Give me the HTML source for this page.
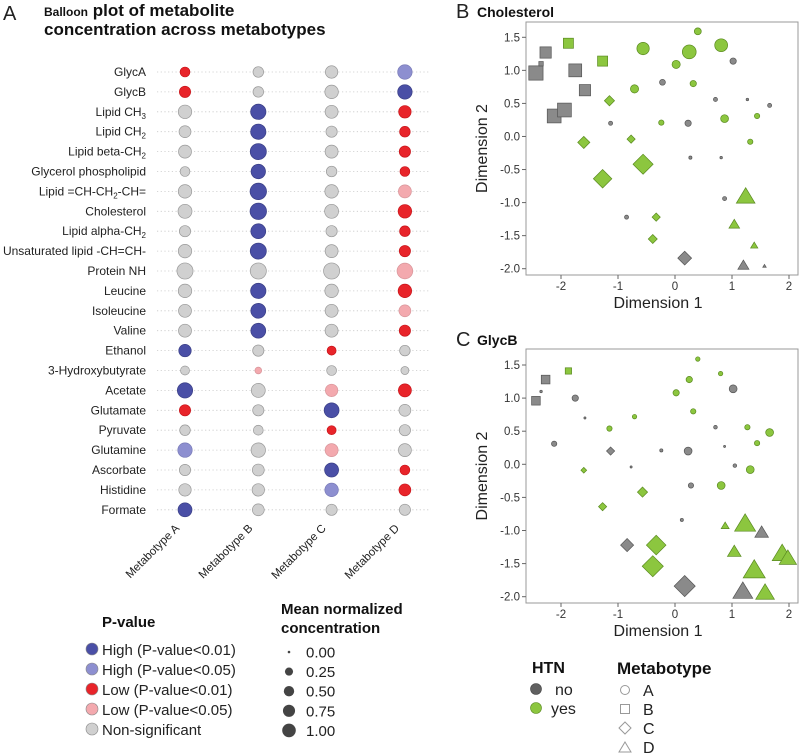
<!DOCTYPE html>
<html><head><meta charset="utf-8">
<style>
html,body{margin:0;padding:0;background:#fff;}
svg{display:block;font-family:"Liberation Sans","DejaVu Sans",sans-serif;}
</style></head>
<body>
<svg id="fig" width="800" height="753" viewBox="0 0 800 753" xmlns="http://www.w3.org/2000/svg">
<g id="panelA">
<text x="3" y="20" font-size="20" fill="#222">A</text>
<text x="44" y="16" font-size="17" font-weight="bold" fill="#111"><tspan font-size="12">Balloon</tspan> plot of metabolite</text>
<text x="44" y="35" font-size="17" font-weight="bold" fill="#111">concentration across metabotypes</text>
<g id="rows"></g>
<g id="collabels"></g>
<g>
<text x="102" y="627" font-size="15" font-weight="bold" fill="#111">P-value</text>
<circle cx="92" cy="649" r="6" fill="#4a4fa6" stroke="#888" stroke-width="0.6"/>
<text x="102" y="655" font-size="15" fill="#222">High (P-value&lt;0.01)</text>
<circle cx="92" cy="669" r="6" fill="#8d8fd0" stroke="#888" stroke-width="0.6"/>
<text x="102" y="675" font-size="15" fill="#222">High (P-value&lt;0.05)</text>
<circle cx="92" cy="689" r="6" fill="#e8242a" stroke="#888" stroke-width="0.6"/>
<text x="102" y="695" font-size="15" fill="#222">Low (P-value&lt;0.01)</text>
<circle cx="92" cy="709" r="6" fill="#f3a9ae" stroke="#888" stroke-width="0.6"/>
<text x="102" y="715" font-size="15" fill="#222">Low (P-value&lt;0.05)</text>
<circle cx="92" cy="729" r="6" fill="#d0d0d0" stroke="#888" stroke-width="0.6"/>
<text x="102" y="735" font-size="15" fill="#222">Non-significant</text>
</g>
<g>
<text x="281" y="614" font-size="15" font-weight="bold" fill="#111">Mean normalized</text>
<text x="281" y="633" font-size="15" font-weight="bold" fill="#111">concentration</text>
<g id="sizelegend"></g>
</g>
</g>
<g id="panelB"></g>
<g id="panelC"></g>
<g>
<text x="532" y="673" font-size="16" font-weight="bold" fill="#111">HTN</text>
<circle cx="536" cy="689" r="5.5" fill="#606060" stroke="#444" stroke-width="0.6"/>
<text x="555" y="695" font-size="16" fill="#222">no</text>
<circle cx="536" cy="708" r="5.5" fill="#8cc63f" stroke="#5a8a20" stroke-width="0.6"/>
<text x="551" y="714" font-size="16" fill="#222">yes</text>
<text x="617" y="674" font-size="17" font-weight="bold" fill="#111">Metabotype</text>
<circle cx="625" cy="690" r="4.5" fill="none" stroke="#999"/>
<text x="643" y="696" font-size="16" fill="#222">A</text>
<rect x="620.5" y="704.5" width="9" height="9" fill="none" stroke="#999"/>
<text x="643" y="715" font-size="16" fill="#222">B</text>
<path d="M625 722 L631 728 L625 734 L619 728 Z" fill="none" stroke="#999"/>
<text x="643" y="734" font-size="16" fill="#222">C</text>
<path d="M625 742 L631 752 L619 752 Z" fill="none" stroke="#999"/>
<text x="643" y="753" font-size="16" fill="#222">D</text>
</g>
</svg>
<script>
// ---------- Panel A data ----------
const metabolites = ["GlycA","GlycB","Lipid CH3","Lipid CH2","Lipid beta-CH2","Glycerol phospholipid","Lipid =CH-CH2-CH=","Cholesterol","Lipid alpha-CH2","Unsaturated lipid -CH=CH-","Protein NH","Leucine","Isoleucine","Valine","Ethanol","3-Hydroxybutyrate","Acetate","Glutamate","Pyruvate","Glutamine","Ascorbate","Histidine","Formate"];
const metabotypes = ["Metabotype A","Metabotype B","Metabotype C","Metabotype D"];
const sigA = ["L1","L1","N","N","N","N","N","N","N","N","N","N","N","N","H1","N","H1","L1","N","H5","N","N","H1"];
const sigB = ["N","N","H1","H1","H1","H1","H1","H1","H1","H1","N","H1","H1","H1","N","L5","N","N","N","N","N","N","N"];
const sigC = ["N","N","N","N","N","N","N","N","N","N","N","N","N","N","L1","N","L5","H1","L1","L5","H1","H5","N"];
const sigD = ["H5","H1","L1","L1","L1","L1","L5","L1","L1","L1","L5","L1","L5","L1","N","N","L1","N","N","N","L1","L1","N"];
const concA = [0.2,0.3,0.5,0.35,0.45,0.2,0.5,0.55,0.3,0.5,0.8,0.5,0.45,0.45,0.4,0.15,0.7,0.3,0.25,0.6,0.3,0.4,0.55];
const concB = [0.25,0.25,0.7,0.7,0.8,0.6,0.85,0.85,0.65,0.8,0.8,0.7,0.65,0.65,0.3,0.05,0.55,0.3,0.2,0.6,0.35,0.4,0.35];
const concC = [0.4,0.5,0.45,0.3,0.45,0.25,0.5,0.55,0.3,0.45,0.8,0.5,0.45,0.45,0.15,0.2,0.4,0.65,0.15,0.45,0.55,0.5,0.3];
const concD = [0.6,0.6,0.4,0.25,0.3,0.2,0.45,0.5,0.25,0.3,0.75,0.5,0.35,0.3,0.25,0.1,0.45,0.35,0.3,0.45,0.2,0.35,0.3];
const sizeLegendValues = [0,0.25,0.5,0.75,1];
const sizeLegendLabels = ["0.00","0.25","0.50","0.75","1.00"];

// ---------- Panel B data (Cholesterol) ----------
const bX = [-2.44,-2.27,-1.75,-1.58,-2.12,-1.94,-2.35,-1.87,-1.27,-0.56,0.25,0.81,0.40,0.02,-0.71,0.32,0.87,1.44,1.32,-0.24,1.02,-0.22,0.23,-1.13,0.71,1.66,0.27,0.87,-0.85,1.27,0.81,-1.15,-1.60,-0.77,-0.56,-1.27,-0.33,-0.39,0.17,1.24,1.04,1.39,1.20,1.57];
const bY = [0.96,1.27,1.00,0.70,0.31,0.40,1.10,1.41,1.14,1.33,1.28,1.38,1.59,1.09,0.72,0.80,0.27,0.31,-0.08,0.21,1.14,0.82,0.20,0.20,0.56,0.47,-0.32,-0.94,-1.22,0.56,-0.32,0.54,-0.09,-0.04,-0.42,-0.64,-1.22,-1.55,-1.84,-0.91,-1.33,-1.65,-1.95,-1.96];
const bShape = ["B","B","B","B","B","B","B","B","B","A","A","A","A","A","A","A","A","A","A","A","A","A","A","A","A","A","A","A","A","A","A","C","C","C","C","C","C","C","C","D","D","D","D","D"];
const bHTN = ["no","no","no","no","no","no","no","yes","yes","yes","yes","yes","yes","yes","yes","yes","yes","yes","yes","yes","no","no","no","no","no","no","no","no","no","no","no","yes","yes","yes","yes","yes","yes","yes","no","yes","yes","yes","no","no"];
const bConc = [0.75,0.45,0.6,0.45,0.7,0.7,0.05,0.35,0.35,0.55,0.7,0.6,0.15,0.22,0.22,0.12,0.2,0.08,0.08,0.08,0.12,0.1,0.12,0.04,0.04,0.04,0.02,0.04,0.04,0.01,0.01,0.2,0.3,0.12,0.9,0.75,0.12,0.15,0.4,0.7,0.2,0.08,0.22,0.01];

// ---------- Panel C data (GlycB) ----------
const cX = [-2.44,-2.27,-1.87,-2.35,-1.75,-2.12,1.02,0.23,0.28,0.71,1.05,-0.24,0.12,-1.58,-0.77,0.87,0.40,0.80,0.25,0.02,0.32,-0.71,1.27,1.66,1.44,1.32,0.81,-1.15,-1.60,-0.57,-1.27,-0.33,-0.39,-1.13,-0.84,0.17,0.88,1.23,1.04,1.39,1.88,1.98,1.58,1.52,1.19];
const cY = [0.96,1.28,1.41,1.10,1.00,0.31,1.14,0.20,-0.32,0.56,-0.02,0.21,-0.84,0.70,-0.04,0.27,1.59,1.37,1.28,1.08,0.80,0.72,0.56,0.48,0.32,-0.08,-0.32,0.54,-0.09,-0.42,-0.64,-1.22,-1.54,0.20,-1.22,-1.84,-0.93,-0.90,-1.32,-1.60,-1.35,-1.42,-1.94,-1.03,-1.92];
const cShape = ["B","B","B","A","A","A","A","A","A","A","A","A","A","A","A","A","A","A","A","A","A","A","A","A","A","A","A","A","C","C","C","C","C","C","C","C","D","D","D","D","D","D","D","D","D"];
const cHTN = ["no","no","yes","no","no","no","no","no","no","no","no","no","no","no","no","no","yes","yes","yes","yes","yes","yes","yes","yes","yes","yes","yes","yes","yes","yes","yes","yes","yes","no","no","no","yes","yes","yes","yes","yes","yes","yes","no","no"];
const cConc = [0.25,0.25,0.12,0.01,0.12,0.08,0.2,0.2,0.08,0.03,0.03,0.02,0.02,0.005,0.005,0.005,0.05,0.05,0.12,0.12,0.08,0.05,0.08,0.2,0.08,0.2,0.2,0.08,0.05,0.2,0.12,0.85,1.0,0.12,0.35,1.0,0.1,0.9,0.35,1.0,0.8,0.6,0.7,0.35,0.8];

const NS = "http://www.w3.org/2000/svg";
function mk(tag, attrs, parent){ const e=document.createElementNS(NS,tag); for(const k in attrs) e.setAttribute(k,attrs[k]); parent.appendChild(e); return e; }
const sigColor = {H1:"#4a4fa6",H5:"#8d8fd0",L1:"#e8242a",L5:"#f3a9ae",N:"#d0d0d0"};
const sigStroke = {H1:"#3a3f86",H5:"#7a7cb8",L1:"#c8141a",L5:"#d8959a",N:"#999"};

// ---------- Draw panel A ----------
const colX = i => 185 + i*73.3;
const rowY = j => 72 + j*19.9;
const balloonR = v => 1.8 + 7*Math.sqrt(v);
const rowsG = document.getElementById('rows');
const sigs = [sigA,sigB,sigC,sigD], concs=[concA,concB,concC,concD];
function subLabel(t, name){
  const parts = name.split(/(CH[23])/);
  parts.forEach(p=>{
    if(/^CH[23]$/.test(p)){
      const a=document.createElementNS(NS,'tspan'); a.textContent="CH"; t.appendChild(a);
      const b=document.createElementNS(NS,'tspan'); b.textContent=p[2]; b.setAttribute('font-size','8'); b.setAttribute('dy','3'); t.appendChild(b);
      const c=document.createElementNS(NS,'tspan'); c.textContent="\u200b"; c.setAttribute('dy','-3'); t.appendChild(c);
    } else if(p){ const a=document.createElementNS(NS,'tspan'); a.textContent=p; t.appendChild(a); }
  });
}
metabolites.forEach((m,j)=>{
  const y=rowY(j);
  const ln=mk('line',{x1:157,x2:430,y1:y,y2:y,stroke:"#c8c8c8","stroke-width":0.8,"stroke-dasharray":"1.2,2.5"},rowsG);
  
  
  const t=mk('text',{x:146,y:y+4,"text-anchor":"end","font-size":"12",fill:"#222"},rowsG);
  subLabel(t,m);
  
  
  for(let i=0;i<4;i++){
    const s=sigs[i][j];
    const c=mk('circle',{cx:colX(i),cy:y,r:balloonR(concs[i][j]),fill:sigColor[s],stroke:sigStroke[s],"stroke-width":0.7},rowsG);
    
    
  }
});
const clG=document.getElementById('collabels');
metabotypes.forEach((m,i)=>{
  const x=colX(i)-5, y=529;
  const t=mk('text',{x:x,y:y,"text-anchor":"end","font-size":"11.5",fill:"#222",transform:`rotate(-45 ${x} ${y})`},clG);
  t.textContent=m;
  
  
});
const slG=document.getElementById('sizelegend');
sizeLegendValues.forEach((v,k)=>{
  const y=652+k*19.6;
  const c=mk('circle',{cx:289,cy:y,r:1.3+5.5*Math.sqrt(v),fill:"#444"},slG);
  
  
  const t=mk('text',{x:306,y:y+5.5,"font-size":"15",fill:"#222"},slG);
  t.textContent=sizeLegendLabels[k];
  
  
});

// ---------- Scatter panels ----------
const xTicks=[-2,-1,0,1,2], yTicks=[1.5,1.0,0.5,0.0,-0.5,-1.0,-1.5,-2.0];
function scatter(gid, letter, title, top, bottom, y15, ym2, X, Y, SH, H, C, titleY, letterY){
  const g=document.getElementById(gid);
  const L=526,R=798;
  const sx=v=>675+v*57;
  const sy=v=>y15+(1.5-v)*(ym2-y15)/3.5;
  const lt=mk('text',{x:456,y:letterY,"font-size":"20",fill:"#222"},g); lt.textContent=letter;
   
  const tt=mk('text',{x:477,y:titleY,"font-size":"14","font-weight":"bold",fill:"#111"},g); tt.textContent=title;
   
  const fr=mk('rect',{x:L,y:top,width:R-L,height:bottom-top,fill:"none",stroke:"#999","stroke-width":1},g);
   
  xTicks.forEach(v=>{
    const x=sx(v);
    const l=mk('line',{x1:x,x2:x,y1:bottom,y2:bottom+4,stroke:"#666"},g);
     
    const t=mk('text',{x:x,y:bottom+15,"text-anchor":"middle","font-size":"11.5",fill:"#333"},g); t.textContent=String(v);
     
  });
  yTicks.forEach(v=>{
    const y=sy(v);
    const l=mk('line',{x1:L-4,x2:L,y1:y,y2:y,stroke:"#666"},g);
     
    const t=mk('text',{x:L-6,y:y+4,"text-anchor":"end","font-size":"11.5",fill:"#333"},g); t.textContent=v.toFixed(1);
     
  });
  const xt=mk('text',{x:658,y:bottom+33,"text-anchor":"middle","font-size":"16",fill:"#222"},g); xt.textContent="Dimension 1";
   
  const cy=(top+bottom)/2;
  const yt=mk('text',{x:487,y:cy,"text-anchor":"middle","font-size":"16",fill:"#222",transform:`rotate(-90 487 ${cy})`},g); yt.textContent="Dimension 2";
   
  X.forEach((xv,k)=>{
    const x=sx(xv), y=sy(Y[k]), r=0.6+9*Math.sqrt(C[k]);
    const fill=H[k]==="yes"?"#8cc63f":"#8a8a8a", st=H[k]==="yes"?"#5a8a20":"#555";
    let e;
    if(SH[k]==="A") e=mk('circle',{cx:x,cy:y,r:r*0.85},g);
    else if(SH[k]==="B") e=mk('rect',{x:x-r*0.85,y:y-r*0.85,width:r*1.7,height:r*1.7},g);
    else if(SH[k]==="C") e=mk('path',{d:`M${x} ${y-r*1.1}L${x+r*1.1} ${y}L${x} ${y+r*1.1}L${x-r*1.1} ${y}Z`},g);
    else e=mk('path',{d:`M${x} ${y-r*1.1}L${x+r*1.15} ${y+r*0.8}L${x-r*1.15} ${y+r*0.8}Z`},g);
    e.setAttribute('fill',fill); e.setAttribute('stroke',st); e.setAttribute('stroke-width','0.7');
    
    
  });
}
scatter('panelB','B','Cholesterol',22,275,37.3,268.7,bX,bY,bShape,bHTN,bConc,17,18);
scatter('panelC','C','GlycB',349,603,365,596.7,cX,cY,cShape,cHTN,cConc,345,346);
</script>
</body></html>
